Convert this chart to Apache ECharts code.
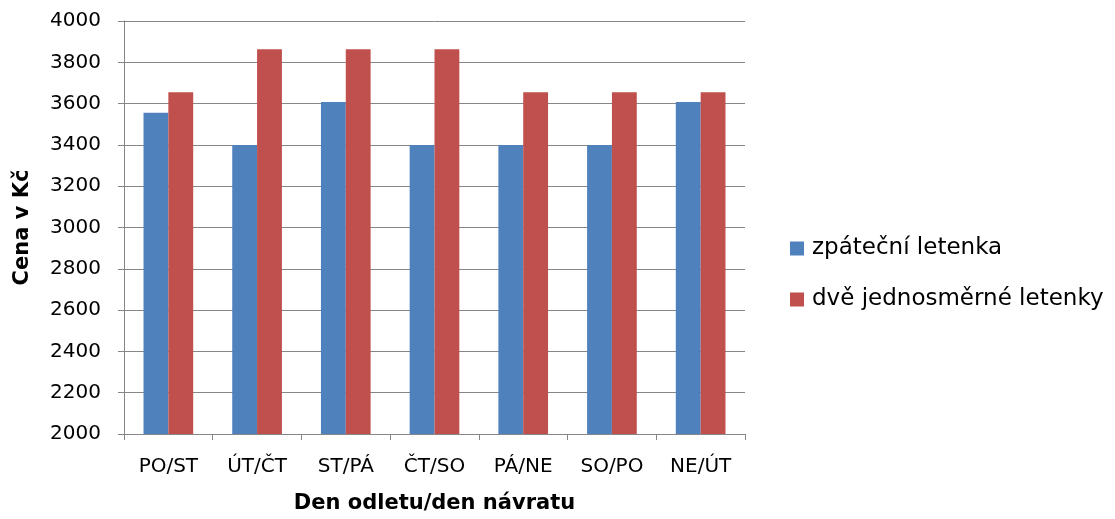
<!DOCTYPE html>
<html>
<head>
<meta charset="utf-8">
<script src="https://cdn.jsdelivr.net/npm/echarts@6/dist/echarts.min.js"></script>
<style>
  html, body { margin: 0; padding: 0; background: #fff; }
  #chart { width: 1115px; height: 519px; }
</style>
</head>
<body>
<div id="chart"></div>
<script>
// Ceny letenek podle kombinace dne odletu a návratu
const categories = ['PO/ST', 'ÚT/ČT', 'ST/PÁ', 'ČT/SO', 'PÁ/NE', 'SO/PO', 'NE/ÚT'];
const zpatecni = [3556, 3400, 3608, 3400, 3400, 3400, 3608];
const dveJednosmerne = [3655, 3863, 3863, 3863, 3655, 3655, 3655];
const seriesNames = ['zpáteční letenka', 'dvě jednosměrné letenky'];

const FONT = '"DejaVu Sans", sans-serif';
const chart = echarts.init(document.getElementById('chart'));
chart.setOption({
  animation: false,
  textStyle: { fontFamily: FONT },
  grid: { left: 124, right: 370, top: 21, bottom: 85 },
  legend: {
    orient: 'vertical',
    left: 785,
    top: 232,
    itemWidth: 14,
    itemHeight: 14,
    itemGap: 28,
    icon: 'rect',
    textStyle: { fontSize: 23, color: '#000', fontFamily: FONT, padding: [0, 0, 0, 3] },
    data: seriesNames
  },
  xAxis: {
    type: 'category',
    data: categories,
    name: 'Den odletu/den návratu',
    nameLocation: 'middle',
    nameGap: 59,
    nameTextStyle: { fontSize: 21, fontWeight: 'bold', color: '#000', fontFamily: FONT },
    axisLine: { lineStyle: { color: '#868686', width: 1 } },
    axisTick: { show: true, length: 6, lineStyle: { color: '#868686' } },
    axisLabel: { fontSize: 20, color: '#000', margin: 23, fontFamily: FONT }
  },
  yAxis: {
    type: 'value',
    min: 2000,
    max: 4000,
    interval: 200,
    name: 'Cena v Kč',
    nameLocation: 'middle',
    nameGap: 91,
    nameTextStyle: { fontSize: 21, fontWeight: 'bold', color: '#000', fontFamily: FONT },
    axisLine: { show: true, lineStyle: { color: '#868686', width: 1 } },
    axisTick: { show: true, length: 6, lineStyle: { color: '#868686' } },
    axisLabel: {
      fontSize: 20, color: '#000', margin: 23, fontFamily: FONT,
      formatter: v => String(v)
    },
    splitLine: { lineStyle: { color: '#868686', width: 1 } }
  },
  series: [
    {
      name: seriesNames[0],
      type: 'bar',
      data: zpatecni,
      itemStyle: { color: '#4F81BD' },
      barGap: '0%',
      barCategoryGap: '44%'
    },
    {
      name: seriesNames[1],
      type: 'bar',
      data: dveJednosmerne,
      itemStyle: { color: '#C0504D' },
      barGap: '0%',
      barCategoryGap: '44%'
    }
  ]
});
</script>
</body>
</html>
